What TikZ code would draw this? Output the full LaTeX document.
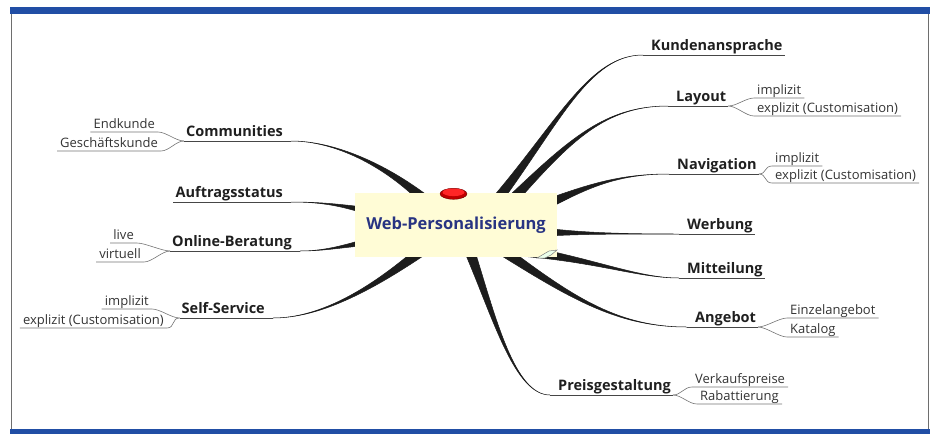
\documentclass[tikz,border=0pt]{standalone}
\usepackage{fontspec}
\setmainfont{Open Sans}
\usetikzlibrary{calc,backgrounds}

\definecolor{barblue}{RGB}{33,78,165}
\definecolor{framegray}{RGB}{110,110,110}
\definecolor{twigcol}{RGB}{28,28,28}
\definecolor{linecol}{RGB}{70,70,70}
\definecolor{sublinecol}{RGB}{115,115,115}
\definecolor{webfill}{RGB}{255,252,214}
\definecolor{webtext}{RGB}{40,52,130}

% tapered branch to the right: root offset, c1, c2, label, half width
\newcommand\rtwig[5]{%
  \filldraw[twig] ($(web.center)+(#1)+(#5)$) .. controls ($(#2)+0.25*(#5)$) and (#3) .. ($(#4.south west)+(-6,0)$)
    .. controls (#3) and ($(#2)-0.25*(#5)$) .. ($(web.center)+(#1)-(#5)$) -- cycle;
  \draw[uline] ($(#4.south west)+(-6,0)$) -- (#4.south east);}
% same to the left
\newcommand\ltwig[5]{%
  \filldraw[twig] ($(web.center)+(#1)+(#5)$) .. controls ($(#2)+0.25*(#5)$) and (#3) .. ($(#4.south east)+(6,0)$)
    .. controls (#3) and ($(#2)-0.25*(#5)$) .. ($(web.center)+(#1)-(#5)$) -- cycle;
  \draw[uline] ($(#4.south east)+(6,0)$) -- (#4.south west);}
\newcommand\rfork[2]{\draw[subline] (#1.south east) .. controls +(8,0) and +(-8,0) .. (#2.south west) -- (#2.south east);}
\newcommand\lfork[2]{\draw[subline] (#1.south west) .. controls +(-8,0) and +(8,0) .. (#2.south east) -- (#2.south west);}

\begin{document}
\begin{tikzpicture}[x=1pt,y=-1pt,
    twig/.style={fill=twigcol,draw=twigcol,line width=0.5pt},
    uline/.style={draw=linecol,line width=0.8pt},
    subline/.style={draw=sublinecol,line width=0.6pt},
    mainlbl/.style={font=\bfseries\fontsize{14.5}{16}\selectfont,text=black!88,inner xsep=2pt,inner ysep=0pt,text depth=4pt},
    sublbl/.style={font=\fontsize{13}{15}\selectfont,text=black!80,inner xsep=3pt,inner ysep=0pt,text depth=3pt},
    webbox/.style={fill=webfill,minimum width=202pt,minimum height=64pt,text=webtext,font=\bfseries\fontsize{16.5}{18}\selectfont}]
  \useasboundingbox (0,0) rectangle (933,434);

  % frame
  \fill[barblue] (10,6.5) rectangle (930,14);
  \fill[barblue] (10,429) rectangle (930,434);
  \draw[framegray,line width=1pt] (11.5,14) -- (11.5,429) (928.5,14) -- (928.5,429);

  % centre
  \node[webbox] (web) at (456,225) {Web-Personalisierung};
  \filldraw[fill=red!75!black,draw=red!40!black,line width=0.4pt] ($(web.north)+(-2.5,1)$) ellipse (13.5 and 5.5);
  \fill[red!85!white] ($(web.north)+(-2.5,-0.5)$) ellipse (11 and 3.8);
  \filldraw[fill=green!8!white,draw=gray,line width=0.5pt] (537,258) -- (549,251) -- (557,250) -- (551,255) -- (545,258) -- cycle;

  % right side
  \node[mainlbl,anchor=south west] (kunden) at (649,55) {Kundenansprache};
  \node[mainlbl,anchor=south west] (layout) at (674,106) {Layout};
  \node[mainlbl,anchor=south west] (navi) at (675,174) {Navigation};
  \node[mainlbl,anchor=south west] (werbung) at (685,234) {Werbung};
  \node[mainlbl,anchor=south west] (mitteil) at (685,278) {Mitteilung};
  \node[mainlbl,anchor=south west] (angebot) at (693,327) {Angebot};
  \node[mainlbl,anchor=south west] (preis) at (556,395) {Preisgestaltung};

  \node[sublbl,anchor=south west] (layimp) at (754,98) {implizit};
  \node[sublbl,anchor=south west] (layexp) at (754,116) {explizit (Customisation)};
  \node[sublbl,anchor=south west] (navimp) at (772,166) {implizit};
  \node[sublbl,anchor=south west] (navexp) at (772,183) {explizit (Customisation)};
  \node[sublbl,anchor=south west] (einzel) at (787,318) {Einzelangebot};
  \node[sublbl,anchor=south west] (katalog) at (787,337) {Katalog};
  \node[sublbl,anchor=south west] (verkauf) at (692,387) {Verkaufspreise};
  \node[sublbl,anchor=south west] (rabatt) at (697,404) {Rabattierung};

  % left side
  \node[mainlbl,anchor=south east] (commu) at (285,141) {Communities};
  \node[mainlbl,anchor=south east] (auftrag) at (285,202) {Auftragsstatus};
  \node[mainlbl,anchor=south east] (beratung) at (294,251) {Online-Beratung};
  \node[mainlbl,anchor=south east] (selfserv) at (267,318) {Self-Service};

  \node[sublbl,anchor=south east] (endkd) at (158,132) {Endkunde};
  \node[sublbl,anchor=south east] (geskd) at (161,151) {Geschäftskunde};
  \node[sublbl,anchor=south east] (live) at (137,243) {live};
  \node[sublbl,anchor=south east] (virt) at (144,262) {virtuell};
  \node[sublbl,anchor=south east] (ssimp) at (152,309) {implizit};
  \node[sublbl,anchor=south east] (ssexp) at (167,328) {explizit (Customisation)};

  \begin{scope}[on background layer]
    \rtwig{41,-25}{560,120}{590,55}{kunden}{4,3}
    \rtwig{56,-25}{570,140}{605,106}{layout}{3.5,3.5}
    \rtwig{89,-20}{590,185}{620,174}{navi}{2,4.5}
    \rtwig{84,7}{575,233}{610,234}{werbung}{0,4.5}
    \rtwig{74,27}{600,262}{640,278}{mitteil}{-1.5,4.8}
    \rtwig{49,27}{575,300}{620,327}{angebot}{-2.8,4.2}
    \rtwig{14,27}{495,320}{515,395}{preis}{4.7,-1.7}
    \ltwig{-31,-25}{385,165}{335,141}{commu}{3,-4}
    \ltwig{-84,-13}{345,206}{325,202}{auftrag}{0,4}
    \ltwig{-84,16}{345,246}{325,251}{beratung}{0,4}
    \ltwig{-36,27}{370,290}{320,318}{selfserv}{2.8,4.2}
  \end{scope}

  \rfork{layout}{layimp}
  \rfork{layout}{layexp}
  \rfork{navi}{navimp}
  \rfork{navi}{navexp}
  \rfork{angebot}{einzel}
  \rfork{angebot}{katalog}
  \rfork{preis}{verkauf}
  \rfork{preis}{rabatt}
  \lfork{commu}{endkd}
  \lfork{commu}{geskd}
  \lfork{beratung}{live}
  \lfork{beratung}{virt}
  \lfork{selfserv}{ssimp}
  \lfork{selfserv}{ssexp}
\end{tikzpicture}
\end{document}
